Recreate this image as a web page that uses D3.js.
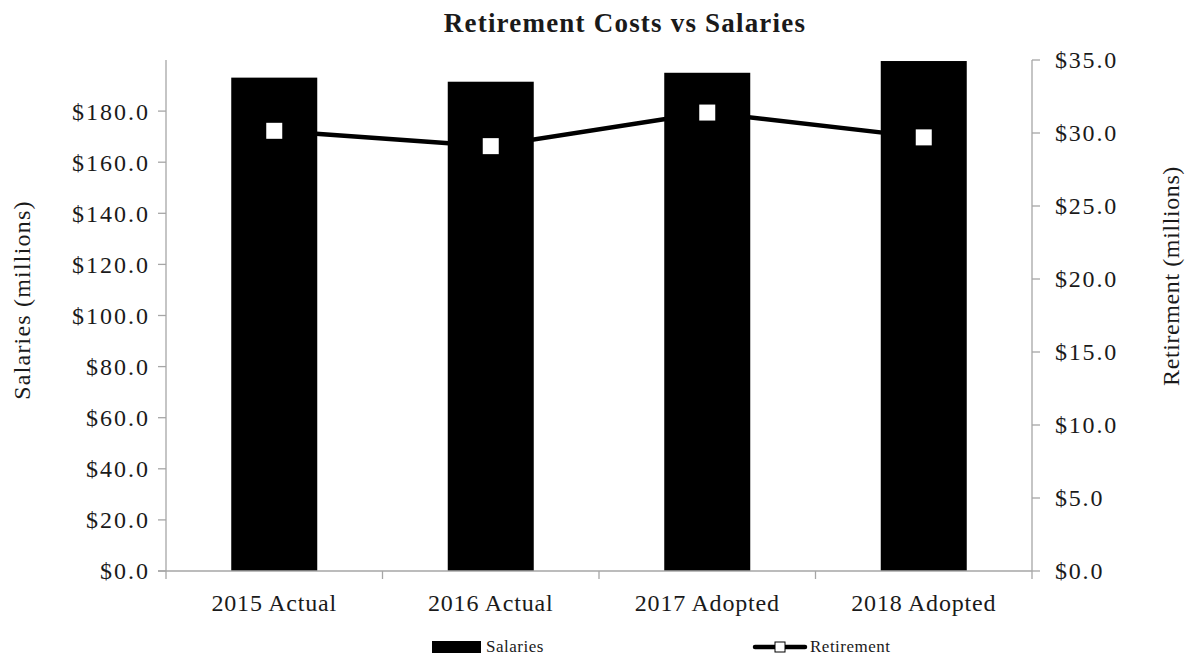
<!DOCTYPE html>
<html>
<head>
<meta charset="utf-8">
<script src="https://cdn.jsdelivr.net/npm/d3@7"></script>
<style>
  html, body { margin: 0; padding: 0; background: #fff; }
  svg text { font-family: "Liberation Serif", "DejaVu Serif", serif; fill: #1a1a1a; }
</style>
</head>
<body>
<svg id="chart" width="1186" height="658"></svg>
<script>
// Budget categories and values (millions of dollars)
const categories = ["2015 Actual", "2016 Actual", "2017 Adopted", "2018 Adopted"];
const salaries = [193.1, 191.5, 195.0, 199.6];
const retirement = [30.15, 29.1, 31.4, 29.7];
const salaryTicks = [0, 20, 40, 60, 80, 100, 120, 140, 160, 180];
const retirementTicks = [0, 5, 10, 15, 20, 25, 30, 35];

const svg = d3.select("#chart");
const margin = { left: 166, right: 1032, top: 60, bottom: 571 };
const axisColor = "#a6a6a6";

const xBand = d3.scaleBand().domain(categories).range([margin.left, margin.right]);
const yL = d3.scaleLinear().domain([0, 200]).range([margin.bottom, margin.top]);
const yR = d3.scaleLinear().domain([0, 35]).range([margin.bottom, margin.top]);
const fmt = d => "$" + d3.format(".1f")(d);
const cx = d => xBand(d) + xBand.bandwidth() / 2;

// Title
svg.append("text")
  .attr("x", 625).attr("y", 32)
  .attr("text-anchor", "middle")
  .attr("font-size", 27).attr("font-weight", "bold")
  .attr("letter-spacing", 1.2)
  .text("Retirement Costs vs Salaries");

// Salary bars
svg.append("g").selectAll("rect").data(categories).join("rect")
  .attr("x", d => cx(d) - 43)
  .attr("width", 86)
  .attr("y", (d, i) => yL(salaries[i]))
  .attr("height", (d, i) => yL(0) - yL(salaries[i]))
  .attr("fill", "#000");

// Left axis
const gL = svg.append("g").attr("transform", `translate(${margin.left},0)`);
gL.append("line").attr("x1", 0).attr("x2", 0).attr("y1", yL(200)).attr("y2", yL(0)).attr("stroke", axisColor).attr("stroke-width", 1.3);
gL.selectAll("line.t").data(salaryTicks).join("line").attr("class", "t")
  .attr("x1", -8).attr("x2", 0).attr("y1", d => yL(d)).attr("y2", d => yL(d))
  .attr("stroke", axisColor).attr("stroke-width", 1.3);
gL.selectAll("text").data(salaryTicks).join("text")
  .attr("x", -16).attr("y", d => yL(d)).attr("dy", "0.35em")
  .attr("text-anchor", "end").attr("font-size", 24).attr("letter-spacing", 2)
  .text(fmt);

// Right axis
const gR = svg.append("g").attr("transform", `translate(${margin.right},0)`);
gR.append("line").attr("x1", 0).attr("x2", 0).attr("y1", yR(35)).attr("y2", yR(0)).attr("stroke", axisColor).attr("stroke-width", 1.3);
gR.selectAll("line.t").data(retirementTicks).join("line").attr("class", "t")
  .attr("x1", 0).attr("x2", 8).attr("y1", d => yR(d)).attr("y2", d => yR(d))
  .attr("stroke", axisColor).attr("stroke-width", 1.3);
gR.selectAll("text").data(retirementTicks).join("text")
  .attr("x", 23).attr("y", d => yR(d)).attr("dy", "0.35em")
  .attr("text-anchor", "start").attr("font-size", 24).attr("letter-spacing", 1.8)
  .text(fmt);

// Bottom axis
const gB = svg.append("g");
gB.append("line").attr("x1", margin.left - 8).attr("x2", margin.right).attr("y1", margin.bottom).attr("y2", margin.bottom)
  .attr("stroke", axisColor).attr("stroke-width", 1.3);
const bounds = categories.map(c => xBand(c)).concat([margin.right]);
gB.selectAll("line.t").data(bounds).join("line").attr("class", "t")
  .attr("x1", d => d).attr("x2", d => d).attr("y1", margin.bottom).attr("y2", margin.bottom + 8)
  .attr("stroke", axisColor).attr("stroke-width", 1.3);
gB.selectAll("text").data(categories).join("text")
  .attr("x", cx).attr("y", 611)
  .attr("text-anchor", "middle").attr("font-size", 24).attr("letter-spacing", 0.8)
  .text(d => d);

// Retirement line with square markers
const line = d3.line().x(d => cx(d)).y((d, i) => yR(retirement[i]));
svg.append("path").datum(categories)
  .attr("d", line).attr("fill", "none").attr("stroke", "#000").attr("stroke-width", 4.5).attr("stroke-linejoin", "round");
svg.append("g").selectAll("rect").data(categories).join("rect")
  .attr("x", d => cx(d) - 8).attr("y", (d, i) => yR(retirement[i]) - 8)
  .attr("width", 16).attr("height", 16)
  .attr("fill", "#fff");

// Axis titles
svg.append("text")
  .attr("transform", "translate(30,300) rotate(-90)")
  .attr("text-anchor", "middle").attr("font-size", 24).attr("letter-spacing", 1.2)
  .text("Salaries (millions)");
svg.append("text")
  .attr("transform", "translate(1179,276) rotate(-90)")
  .attr("text-anchor", "middle").attr("font-size", 24).attr("letter-spacing", 0.6)
  .text("Retirement (millions)");

// Legend
const lg = svg.append("g").attr("font-size", 17).attr("letter-spacing", 0.5);
lg.append("rect").attr("x", 432).attr("y", 641).attr("width", 49).attr("height", 12).attr("fill", "#000");
lg.append("text").attr("x", 486).attr("y", 652).text("Salaries");
lg.append("line").attr("x1", 755).attr("x2", 805).attr("y1", 647).attr("y2", 647).attr("stroke", "#000").attr("stroke-width", 4.5).attr("stroke-linecap", "round");
lg.append("rect").attr("x", 775).attr("y", 642).attr("width", 10).attr("height", 10).attr("fill", "#fff").attr("stroke", "#000").attr("stroke-width", 1);
lg.append("text").attr("x", 810).attr("y", 652).text("Retirement");
</script>
</body>
</html>
